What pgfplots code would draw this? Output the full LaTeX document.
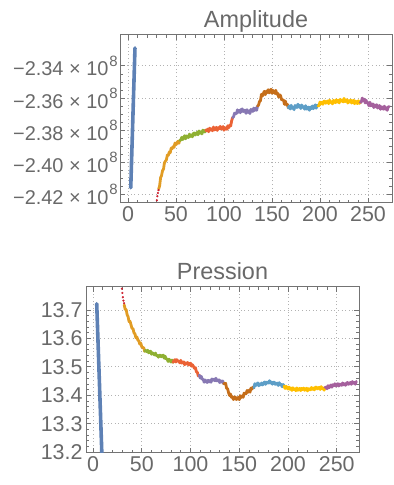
\documentclass[border=0pt]{standalone}
\usepackage{fontspec}
\setmainfont{Liberation Sans}
\usepackage{pgfplots}
\pgfplotsset{compat=1.18}
\definecolor{mblue}{RGB}{94,129,181}
\definecolor{morange}{RGB}{225,156,36}
\definecolor{mgreen}{RGB}{143,176,50}
\definecolor{mred}{RGB}{235,98,53}
\definecolor{mpurple}{RGB}{135,120,179}
\definecolor{mbrown}{RGB}{197,110,26}
\definecolor{mlblue}{RGB}{93,158,199}
\definecolor{myellow}{RGB}{255,191,0}
\definecolor{mmagenta}{RGB}{165,96,157}
\definecolor{mdred}{RGB}{205,30,45}
\definecolor{textgray}{RGB}{105,105,105}
\definecolor{framegray}{RGB}{115,115,115}
\newcommand{\ylab}[1]{−#1\hspace{0.28em}×\hspace{0.28em}10\hspace{1bp}\raisebox{0.5em}{\fontsize{15}{15}\selectfont 8}}
\pgfplotsset{mstyle/.style={
  scale only axis,
  axis line style={draw=framegray, line width=1bp},
  every tick/.style={draw=framegray, line width=0.8bp},
  tick align=inside,
  major tick length=5bp, minor tick length=3bp,
  grid=major,
  major grid style={draw=gray!60, line width=0.9bp, dash pattern=on 1bp off 2.6bp},
  ticklabel style={font=\fontsize{21.5}{24}\selectfont, text=textgray},
  title style={font=\fontsize{23.5}{26}\selectfont, text=textgray, at={(0.5,1)}, anchor=base, yshift=2bp},
  /pgf/number format/assume math mode=true,
  xtick={0,50,100,150,200,250},
  minor x tick num=4,
  every axis plot/.append style={line width=2.8bp, line join=round, line cap=round, mark=none},
}}
\begin{document}
\begin{tikzpicture}
\path[use as bounding box] (0,0) rectangle (394bp,485bp);
% ---------------- Amplitude ----------------
\begin{axis}[mstyle,
  at={(120bp,282bp)}, anchor=south west,
  width=272bp, height=168bp,
  xmin=-8.3, xmax=275,
  ymin=-2.4252, ymax=-2.3208,
  ytick={-2.42,-2.40,-2.38,-2.36,-2.34},
  yticklabels={\ylab{2.42},\ylab{2.40},\ylab{2.38},\ylab{2.36},\ylab{2.34}},
  yticklabel style={font=\fontsize{20}{22}\selectfont, inner xsep=2bp},
  minor y tick num=3,
  title={Amplitude},
]
\addplot[mblue, line width=3.6bp] coordinates {(2.9,-2.4157)(7.3,-2.3289)};
\addplot[color=mdred, only marks, mark=*, mark size=1bp, line width=0.2bp, mark options={fill=mdred, draw=mdred}] coordinates {(29.6,-2.4262)(30.1,-2.4235)(30.6,-2.4210)(31.2,-2.4190)(31.8,-2.4172)};
\addplot[morange] coordinates {(32,-2.4165)(33,-2.4144)(34,-2.4094)(35,-2.4081)(36,-2.4050)(37,-2.4042)(38,-2.4002)(39,-2.3992)(40,-2.3984)(41,-2.3954)(42,-2.3956)(43,-2.3935)(44,-2.3940)(45,-2.3911)(46,-2.3914)(47,-2.3902)(48,-2.3906)(49,-2.3879)(50,-2.3890)(51,-2.3880)(52,-2.3868)(53,-2.3881)(54,-2.3862)};
\addplot[mgreen] coordinates {(54,-2.3862)(55,-2.3861)(56,-2.3844)(57,-2.3858)(58,-2.3845)(59,-2.3834)(60,-2.3853)(61,-2.3835)(62,-2.3841)(63,-2.3845)(64,-2.3824)(65,-2.3838)(66,-2.3829)(67,-2.3841)(68,-2.3821)(69,-2.3817)(70,-2.3830)(71,-2.3821)(72,-2.3813)(73,-2.3828)(74,-2.3804)(75,-2.3817)(76,-2.3810)(77,-2.3823)(78,-2.3799)(79,-2.3805)(80,-2.3811)(81,-2.3798)};
\addplot[mred] coordinates {(81,-2.3798)(82,-2.3804)(83,-2.3793)(84,-2.3809)(85,-2.3787)(86,-2.3798)(87,-2.3792)(88,-2.3803)(89,-2.3780)(90,-2.3798)(91,-2.3791)(92,-2.3782)(93,-2.3801)(94,-2.3784)(95,-2.3790)(96,-2.3776)(97,-2.3793)(98,-2.3784)(99,-2.3777)(100,-2.3800)(101,-2.3784)(102,-2.3790)(103,-2.3794)(104,-2.3772)(105,-2.3784)(106,-2.3769)(107,-2.3773)(108,-2.3741)(109,-2.3721)};
\addplot[mpurple] coordinates {(109,-2.3721)(110,-2.3716)(111,-2.3694)(112,-2.3696)(113,-2.3697)(114,-2.3673)(115,-2.3688)(116,-2.3676)(117,-2.3691)(118,-2.3671)(119,-2.3668)(120,-2.3684)(121,-2.3679)(122,-2.3675)(123,-2.3695)(124,-2.3672)(125,-2.3688)(126,-2.3681)(127,-2.3696)(128,-2.3670)(129,-2.3677)(130,-2.3683)(131,-2.3662)(132,-2.3677)(133,-2.3662)(134,-2.3676)(135,-2.3649)};
\addplot[mbrown] coordinates {(135,-2.3649)(136,-2.3643)(137,-2.3621)(138,-2.3617)(139,-2.3576)(140,-2.3587)(141,-2.3572)(142,-2.3558)(143,-2.3579)(144,-2.3558)(145,-2.3565)(146,-2.3548)(147,-2.3568)(148,-2.3555)(149,-2.3545)(150,-2.3570)(151,-2.3552)(152,-2.3562)(153,-2.3571)(154,-2.3552)(155,-2.3575)(156,-2.3571)(157,-2.3594)(158,-2.3580)(159,-2.3586)(160,-2.3611)(161,-2.3611)(162,-2.3612)(163,-2.3639)(164,-2.3619)(165,-2.3642)(166,-2.3639)(167,-2.3661)};
\addplot[mlblue] coordinates {(167,-2.3661)(168,-2.3649)(169,-2.3668)(170,-2.3645)(171,-2.3663)(172,-2.3658)(173,-2.3672)(174,-2.3646)(175,-2.3653)(176,-2.3659)(177,-2.3638)(178,-2.3656)(179,-2.3646)(180,-2.3665)(181,-2.3643)(182,-2.3657)(183,-2.3653)(184,-2.3669)(185,-2.3647)(186,-2.3669)(187,-2.3665)(188,-2.3656)(189,-2.3676)(190,-2.3657)(191,-2.3665)(192,-2.3649)(193,-2.3666)(194,-2.3654)(195,-2.3642)(196,-2.3663)(197,-2.3644)(198,-2.3649)};
\addplot[myellow] coordinates {(198,-2.3649)(199,-2.3647)(200,-2.3624)(201,-2.3636)(202,-2.3626)(203,-2.3639)(204,-2.3620)(205,-2.3618)(206,-2.3632)(207,-2.3625)(208,-2.3618)(209,-2.3635)(210,-2.3613)(211,-2.3627)(212,-2.3622)(213,-2.3636)(214,-2.3614)(215,-2.3621)(216,-2.3629)(217,-2.3610)(218,-2.3625)(219,-2.3614)(220,-2.3630)(221,-2.3608)(222,-2.3619)(223,-2.3613)(224,-2.3624)(225,-2.3602)(226,-2.3622)(227,-2.3617)(228,-2.3610)(229,-2.3631)(230,-2.3616)(231,-2.3624)(232,-2.3612)(233,-2.3631)(234,-2.3622)(235,-2.3613)(236,-2.3635)(237,-2.3619)(238,-2.3627)(239,-2.3634)(240,-2.3616)(241,-2.3633)(242,-2.3627)};
\addplot[mmagenta] coordinates {(242,-2.3627)(243,-2.3625)(244,-2.3600)(245,-2.3615)(246,-2.3607)(247,-2.3630)(248,-2.3613)(249,-2.3632)(250,-2.3631)(251,-2.3648)(252,-2.3626)(253,-2.3648)(254,-2.3643)(255,-2.3636)(256,-2.3659)(257,-2.3643)(258,-2.3654)(259,-2.3641)(260,-2.3662)(261,-2.3654)(262,-2.3646)(263,-2.3670)(264,-2.3654)(265,-2.3662)(266,-2.3669)(267,-2.3650)(268,-2.3669)(269,-2.3660)(270,-2.3676)(271,-2.3656)(272,-2.3652)};
\end{axis}
% ---------------- Pression ----------------
\begin{axis}[mstyle,
  at={(86bp,32bp)}, anchor=south west,
  width=273bp, height=166bp,
  xmin=-7.2, xmax=272.8,
  ymin=13.197, ymax=13.781,
  ytick={13.2,13.3,13.4,13.5,13.6,13.7},
  yticklabel style={/pgf/number format/fixed, /pgf/number format/precision=1, /pgf/number format/fixed zerofill},
  minor y tick num=4,
  title={Pression},
]
\addplot[mblue, line width=3.6bp] coordinates {(3.8,13.722)(9.6,13.14)};
\addplot[color=mdred, only marks, mark=*, mark size=1bp, line width=0.2bp, mark options={fill=mdred, draw=mdred}] coordinates {(29.2,13.79)(29.6,13.775)(30.1,13.76)(30.6,13.745)(31.2,13.733)(31.9,13.724)};
\addplot[morange] coordinates {(32,13.718)(33,13.7025)(34,13.7015)(35,13.6835)(36,13.676)(37,13.659)(38,13.660)(39,13.6475)(40,13.635)(41,13.635)(42,13.620)(43,13.6165)(44,13.602)(45,13.6055)(46,13.594)(47,13.5915)(48,13.580)(49,13.584)(50,13.5705)(51,13.568)(52,13.5675)(53,13.5545)};
\addplot[mgreen] coordinates {(53,13.5545)(54,13.558)(55,13.5535)(56,13.5585)(57,13.5495)(58,13.553)(59,13.555)(60,13.5445)(61,13.5495)(62,13.5455)(63,13.542)(64,13.5485)(65,13.540)(66,13.5415)(67,13.534)(68,13.541)(69,13.541)(70,13.5355)(71,13.5395)(72,13.541)(73,13.5305)(74,13.5375)(75,13.5275)(76,13.528)(77,13.519)(78,13.527)(79,13.5215)(80,13.517)(81,13.524)(82,13.516)};
\addplot[mred] coordinates {(82,13.516)(83,13.521)(84,13.5255)(85,13.517)(86,13.5255)(87,13.519)(88,13.5205)(89,13.514)(90,13.523)(91,13.5135)(92,13.515)(93,13.5175)(94,13.5075)(95,13.514)(96,13.5105)(97,13.5155)(98,13.5065)(99,13.510)(100,13.513)(101,13.5025)(102,13.5075)(103,13.5015)(104,13.495)(105,13.4975)(106,13.483)(107,13.4805)(108,13.468)(109,13.471)};
\addplot[mpurple] coordinates {(109,13.471)(110,13.4605)(111,13.4665)(112,13.4565)(113,13.456)(114,13.446)(115,13.454)(116,13.4495)(117,13.445)(118,13.453)(119,13.447)(120,13.4525)(121,13.446)(122,13.4575)(123,13.453)(124,13.4565)(125,13.451)(126,13.460)(127,13.4505)(128,13.452)(129,13.4545)(130,13.4445)(131,13.451)(132,13.4465)(133,13.4505)(134,13.4405)};
\addplot[mbrown] coordinates {(134,13.4405)(135,13.4412)(136,13.442)(137,13.4246)(138,13.423)(139,13.4094)(140,13.3994)(141,13.4046)(142,13.3926)(143,13.3948)(144,13.385)(145,13.3936)(146,13.3938)(147,13.385)(148,13.3886)(149,13.3926)(150,13.3846)(151,13.3986)(152,13.3922)(153,13.3982)(154,13.3928)(155,13.4078)(156,13.4066)(157,13.4054)(158,13.417)(159,13.4106)(160,13.418)(161,13.411)(162,13.4254)(163,13.4218)(164,13.4288)(165,13.4262)};
\addplot[mlblue] coordinates {(165,13.4262)(166,13.441)(167,13.4345)(168,13.440)(169,13.4435)(170,13.4335)(171,13.440)(172,13.4365)(173,13.4435)(174,13.4365)(175,13.442)(176,13.447)(177,13.4385)(178,13.4465)(179,13.4445)(180,13.443)(181,13.4515)(182,13.443)(183,13.4465)(184,13.439)(185,13.446)(186,13.446)(187,13.4385)(188,13.4405)(189,13.443)(190,13.4345)(191,13.4445)(192,13.4365)(193,13.438)(194,13.430)(195,13.438)(196,13.4325)};
\addplot[myellow] coordinates {(196,13.4325)(197,13.424)(198,13.432)(199,13.4265)(200,13.422)(201,13.429)(202,13.421)(203,13.4255)(204,13.417)(205,13.4265)(206,13.420)(207,13.4225)(208,13.416)(209,13.426)(210,13.4175)(211,13.421)(212,13.4245)(213,13.4165)(214,13.424)(215,13.4205)(216,13.4255)(217,13.4175)(218,13.421)(219,13.425)(220,13.4155)(221,13.4235)(222,13.4205)(223,13.419)(224,13.4275)(225,13.421)(226,13.4255)(227,13.419)(228,13.428)(229,13.429)(230,13.4225)(231,13.4255)(232,13.428)(233,13.4205)(234,13.4305)(235,13.4235)(236,13.426)(237,13.418)(238,13.428)};
\addplot[mmagenta] coordinates {(238,13.428)(239,13.4285)(240,13.423)(241,13.434)(242,13.4265)(243,13.431)(244,13.4365)(245,13.4285)(246,13.437)(247,13.4345)(248,13.4405)(249,13.4325)(250,13.437)(251,13.441)(252,13.4325)(253,13.4395)(254,13.4375)(255,13.435)(256,13.4435)(257,13.437)(258,13.4405)(259,13.435)(260,13.443)(261,13.445)(262,13.4385)(263,13.4425)(264,13.445)(265,13.4385)(266,13.4485)(267,13.4425)(268,13.445)(269,13.439)(270,13.449)};
\end{axis}
\end{tikzpicture}
\end{document}
